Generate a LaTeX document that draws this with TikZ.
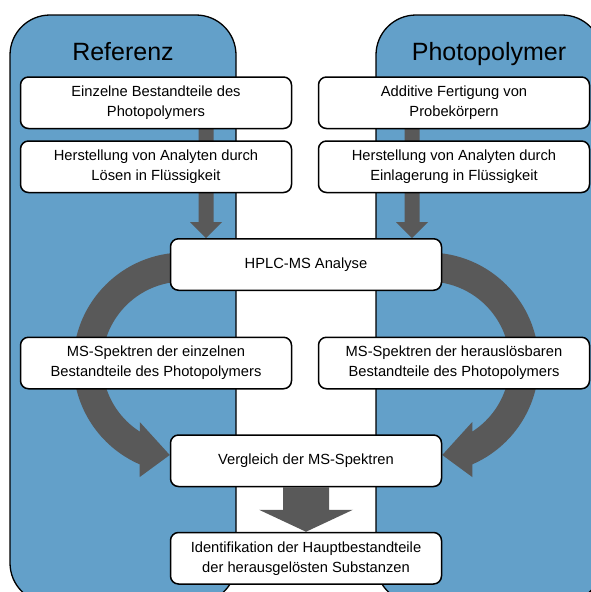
\documentclass[tikz,border=0pt]{standalone}
\usepackage{fontspec}
\setmainfont{Liberation Sans}
\usetikzlibrary{calc}
\definecolor{panelblue}{RGB}{99,160,201}
\definecolor{arrowgray}{RGB}{89,89,89}
\pgfdeclarelayer{back}
\pgfdeclarelayer{mid}
\pgfsetlayers{back,mid,main}
\tikzset{
    panel/.style={draw=black, line width=1.3pt, fill=panelblue, rounded corners=40pt},
    procbox/.style={draw=black, line width=1.5pt, fill=white, rounded corners=8pt,
        minimum width=271pt, minimum height=51.5pt, inner sep=0pt, align=center,
        font=\fontsize{14.7}{20}\selectfont},
    paneltitle/.style={anchor=base, font=\fontsize{25}{30}\selectfont}
}
% from, to, half shaft, half head, head length
\newcommand{\blockarrow}[5]{%
    \fill[arrowgray] ($(#1)+(-#3,0)$) -- ($(#2)+(-#3,-#5)$) -- ($(#2)+(-#4,-#5)$) -- (#2)
        -- ($(#2)+(#4,-#5)$) -- ($(#2)+(#3,-#5)$) -- ($(#1)+(#3,0)$) -- cycle;}

\begin{document}
\begin{tikzpicture}[x=1pt, y=-1pt]
    \useasboundingbox (0,0) rectangle (591,592);
% Panels
    \begin{pgfonlayer}{back}
    \begin{scope}
        \clip (0,0) rectangle (591,592);
        \draw[panel] (10,15) rectangle (236,603);
        \draw[panel] (376,15) rectangle (602,603);
    \end{scope}
    \end{pgfonlayer}
    \node[paneltitle] (reftitle) at (123,60) {Referenz};
    \node[paneltitle] (phottitle) at (489,60) {Photopolymer};
% Steps
    \node[procbox] (ref1) at (156,102.75) {Einzelne Bestandteile des\\Photopolymers};
    \node[procbox] (ref2) at (156,166.75) {Herstellung von Analyten durch\\Lösen in Flüssigkeit};
    \node[procbox] (phot1) at (454,102.75) {Additive Fertigung von\\Probekörpern};
    \node[procbox] (phot2) at (454,166.75) {Herstellung von Analyten durch\\Einlagerung in Flüssigkeit};
    \node[procbox] (hplc) at (306,264.5) {HPLC-MS Analyse};
    \node[procbox] (msref) at (156,363) {MS-Spektren der einzelnen\\Bestandteile des Photopolymers};
    \node[procbox] (msphot) at (454,363) {MS-Spektren der herauslösbaren\\Bestandteile des Photopolymers};
    \node[procbox] (vergl) at (306,460.75) {Vergleich der MS-Spektren};
    \node[procbox] (ident) at (306,558.25) {Identifikation der Hauptbestandteile\\der herausgelösten Substanzen};
% Arrows
    \begin{pgfonlayer}{mid}
    \coordinate (refstart) at ($(ref1.center)+(50,0)$);
    \coordinate (refend) at (refstart |- hplc.north);
    \coordinate (photstart) at ($(phot1.center)+(-42,0)$);
    \coordinate (photend) at (photstart |- hplc.north);
    \blockarrow{refstart}{refend}{7.5}{16}{16}
    \blockarrow{photstart}{photend}{7.5}{16}{16}
    \blockarrow{vergl.south}{ident.north}{23}{47}{22}
    \coordinate (lc) at ($(hplc.west |- msref.center)+(14,0)$);
    \coordinate (rc) at ($(hplc.east |- msphot.center)+(-14,0)$);
    \fill[arrowgray] ($(lc)+(0,-110.5)$) arc[start angle=270, end angle=113.5, radius=110.5]
        -- ($(lc)+(-44,114)$) -- ($(lc)+(-14,92)$) -- ($(lc)+(-44,59)$) -- ($(lc)+(-44,68.6)$)
        arc[start angle=122.7, end angle=270, radius=81.5] -- cycle;
    \fill[arrowgray] ($(rc)+(0,-110.5)$) arc[start angle=-90, end angle=66.5, radius=110.5]
        -- ($(rc)+(44,114)$) -- ($(rc)+(14,92)$) -- ($(rc)+(44,59)$) -- ($(rc)+(44,68.6)$)
        arc[start angle=57.3, end angle=-90, radius=81.5] -- cycle;
    \end{pgfonlayer}
\end{tikzpicture}
\end{document}
